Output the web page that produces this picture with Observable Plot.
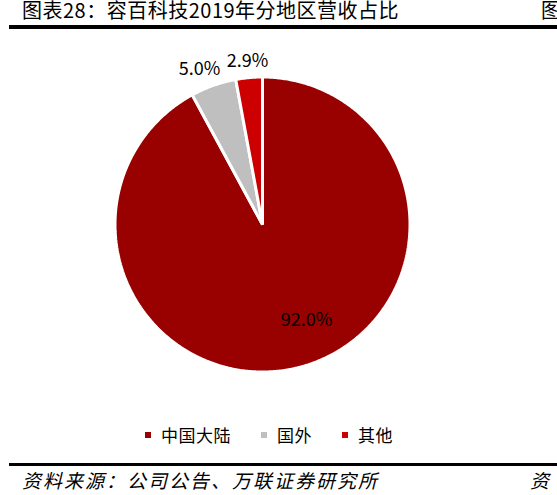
<!DOCTYPE html>
<html>
<head>
<meta charset="utf-8">
<script src="https://cdn.jsdelivr.net/npm/d3@7"></script>
<script src="https://cdn.jsdelivr.net/npm/@observablehq/plot@0.6"></script>
<style>
  html, body { margin: 0; padding: 0; background: #fff; }
  body { width: 557px; height: 495px; position: relative; overflow: hidden; font-family: "Noto Sans CJK SC", sans-serif; color: #000; }
  .abs { position: absolute; white-space: nowrap; }
  .title { left: 22px; top: 0px; font-size: 20px; line-height: 20px; letter-spacing: 0.5px; }
  .rule-top { left: 9px; top: 25px; width: 560px; height: 4px; background: #000; }
  .rule-bot { left: 9px; top: 463px; width: 560px; height: 3px; background: #000; }
  .caption { left: 22px; top: 470px; font-size: 19px; line-height: 19px; font-style: italic; letter-spacing: 2px; }
  #chart { left: 0; top: 30px; }
  #legend { left: 145px; top: 426px; display: flex; align-items: center; font-size: 17px; line-height: 17px; letter-spacing: 0.5px; }
  #legend .sw { width: 6px; height: 6px; margin-right: 10px; }
  #legend .item { display: flex; align-items: center; margin-right: 30px; }
</style>
</head>
<body>
<div class="abs title">图表28：容百科技2019年分地区营收占比</div>
<div class="abs title" style="left:541px">图</div>
<div class="abs rule-top"></div>
<div class="abs" id="chart"></div>
<div class="abs" id="legend"></div>
<div class="abs rule-bot"></div>
<div class="abs caption">资料来源：公司公告、万联证券研究所</div>
<div class="abs caption" style="left:530px">资</div>
<script>
// Data
const regions = ["中国大陆", "国外", "其他"];
const shares = [92.0, 5.0, 2.9];
const colors = ["#990000", "#bfbfbf", "#cc0000"];

const rows = regions.map((name, i) => ({name, value: shares[i]}));
const arcs = d3.pie().sort(null).value(d => d.value)(rows);

// polygon outline of each slice (angles clockwise from 12 o'clock)
const pts = [];
arcs.forEach(a => {
  const n = Math.max(2, Math.ceil((a.endAngle - a.startAngle) / 0.01));
  pts.push({name: a.data.name, x: 0, y: 0});
  for (let k = 0; k <= n; k++) {
    const t = a.startAngle + (a.endAngle - a.startAngle) * k / n;
    pts.push({name: a.data.name, x: Math.sin(t), y: Math.cos(t)});
  }
  pts.push({name: a.data.name, x: 0, y: 0});
});

function labelPos(a, r) {
  const m = (a.startAngle + a.endAngle) / 2;
  return {name: a.data.name, text: a.data.value.toFixed(1) + "%", x: r * Math.sin(m), y: r * Math.cos(m)};
}
const bigLabel = [labelPos(arcs[0], 0.72)];
const grayLabel = [labelPos(arcs[1], 1.14)];
const redLabel = [labelPos(arcs[2], 1.11)];

const cx = 262, cy = 194, R = 147.5;
const textOpts = {x: "x", y: "y", text: "text", fontSize: 18, fontFamily: "Noto Sans CJK SC", fill: "#000"};

const chart = Plot.plot({
  width: 557,
  height: 390,
  style: {overflow: "visible", background: "transparent"},
  x: {domain: [-1, 1], range: [cx - R, cx + R], axis: null},
  y: {domain: [-1, 1], range: [cy + R, cy - R], axis: null},
  color: {domain: regions, range: colors},
  marks: [
    Plot.line(pts, {x: "x", y: "y", z: "name", fill: "name", stroke: "white", strokeWidth: 3, strokeLinejoin: "miter", curve: "linear-closed"}),
    Plot.text(bigLabel, {...textOpts, dx: 18, dy: -7}),
    Plot.text(grayLabel, {...textOpts, dx: -7, dy: 3}),
    Plot.text(redLabel, {...textOpts})
  ]
});
document.getElementById("chart").appendChild(chart);

// Legend
const legend = document.getElementById("legend");
regions.forEach((name, i) => {
  const item = document.createElement("div");
  item.className = "item";
  const sw = document.createElement("div");
  sw.className = "sw";
  sw.style.background = colors[i];
  const label = document.createElement("span");
  label.textContent = name;
  item.appendChild(sw);
  item.appendChild(label);
  legend.appendChild(item);
});
</script>
</body>
</html>
